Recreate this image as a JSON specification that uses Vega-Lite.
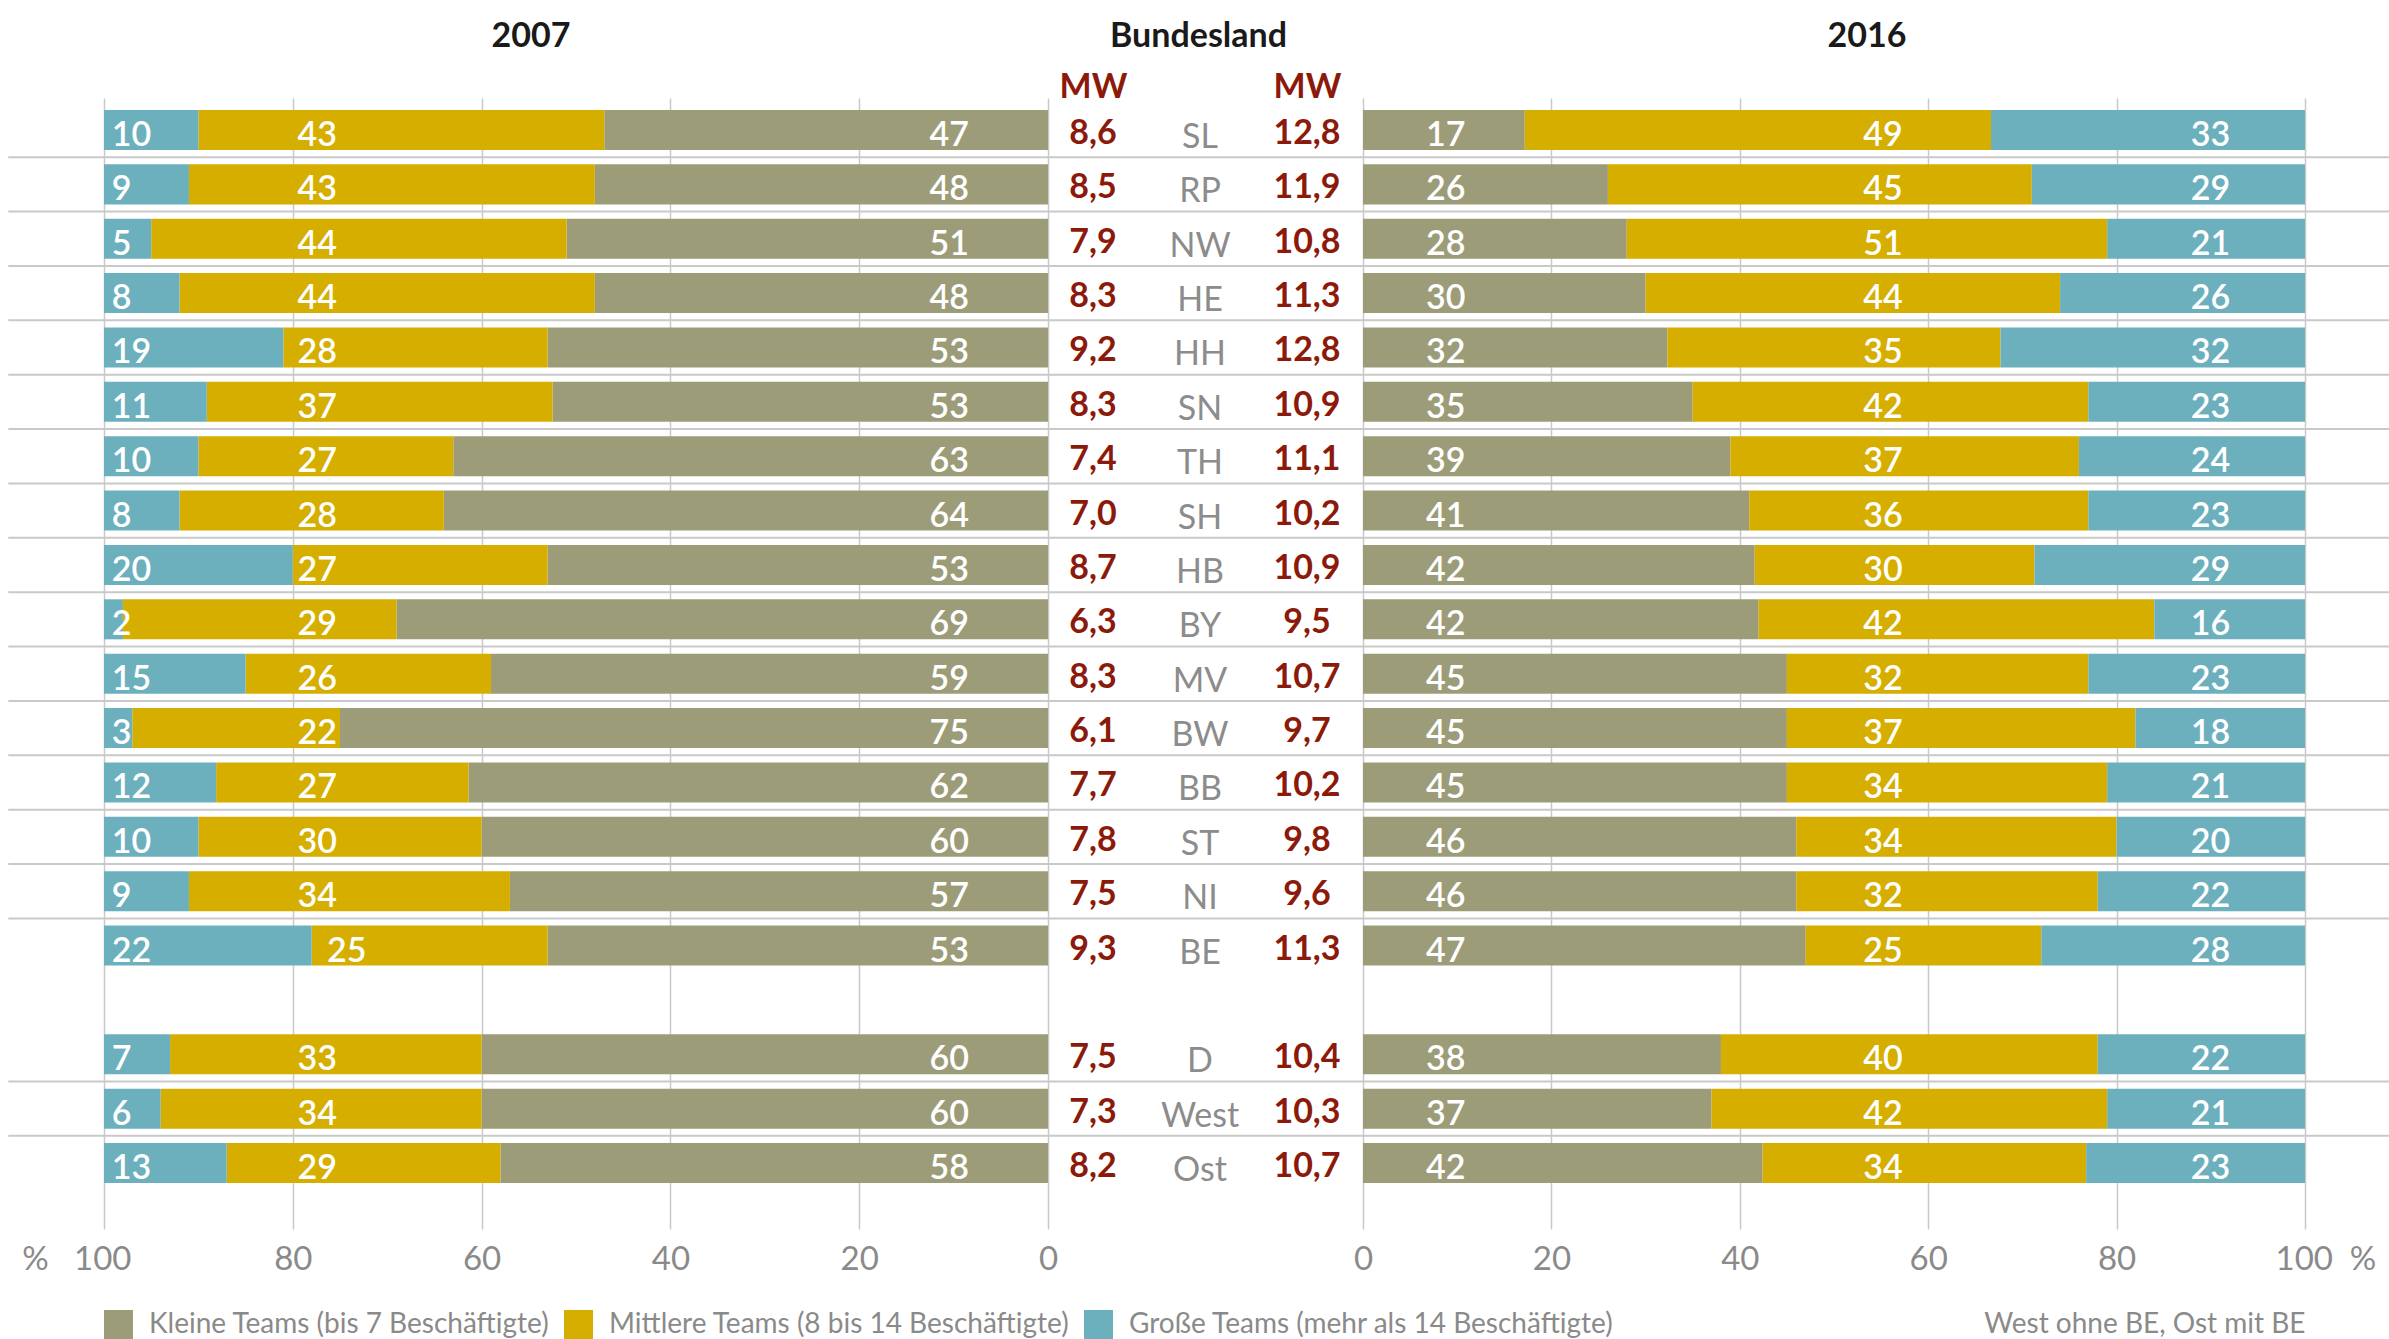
{
  "$schema": "https://vega.github.io/schema/vega-lite/v6.json",
  "background": "white",
  "padding": {"left": 7, "top": 20, "right": 0, "bottom": 0},
  "autosize": {"type": "pad"},
  "bounds": "flush",
  "spacing": 0,
  "config": {
    "font": "Lato",
    "view": {"stroke": null},
    "locale": {"number": {"decimal": ",", "thousands": ".", "grouping": [3], "currency": ["", " €"]}}
  },
  "resolve": {"scale": {"color": "independent"}, "legend": {"color": "independent"}},
  "datasets": {
    "mw": [
      {"land": "SL", "mw2007": 8.6, "mw2016": 12.8},
      {"land": "RP", "mw2007": 8.5, "mw2016": 11.9},
      {"land": "NW", "mw2007": 7.9, "mw2016": 10.8},
      {"land": "HE", "mw2007": 8.3, "mw2016": 11.3},
      {"land": "HH", "mw2007": 9.2, "mw2016": 12.8},
      {"land": "SN", "mw2007": 8.3, "mw2016": 10.9},
      {"land": "TH", "mw2007": 7.4, "mw2016": 11.1},
      {"land": "SH", "mw2007": 7.0, "mw2016": 10.2},
      {"land": "HB", "mw2007": 8.7, "mw2016": 10.9},
      {"land": "BY", "mw2007": 6.3, "mw2016": 9.5},
      {"land": "MV", "mw2007": 8.3, "mw2016": 10.7},
      {"land": "BW", "mw2007": 6.1, "mw2016": 9.7},
      {"land": "BB", "mw2007": 7.7, "mw2016": 10.2},
      {"land": "ST", "mw2007": 7.8, "mw2016": 9.8},
      {"land": "NI", "mw2007": 7.5, "mw2016": 9.6},
      {"land": "BE", "mw2007": 9.3, "mw2016": 11.3},
      {"land": "D", "mw2007": 7.5, "mw2016": 10.4},
      {"land": "West", "mw2007": 7.3, "mw2016": 10.3},
      {"land": "Ost", "mw2007": 8.2, "mw2016": 10.7}
    ],
    "a2007": [
      {"land": "SL", "kat": "Kleine Teams (bis 7 Beschäftigte)", "o": 1, "v": 47},
      {"land": "SL", "kat": "Mittlere Teams (8 bis 14 Beschäftigte)", "o": 2, "v": 43},
      {"land": "SL", "kat": "Große Teams (mehr als 14 Beschäftigte)", "o": 3, "v": 10},
      {"land": "RP", "kat": "Kleine Teams (bis 7 Beschäftigte)", "o": 1, "v": 48},
      {"land": "RP", "kat": "Mittlere Teams (8 bis 14 Beschäftigte)", "o": 2, "v": 43},
      {"land": "RP", "kat": "Große Teams (mehr als 14 Beschäftigte)", "o": 3, "v": 9},
      {"land": "NW", "kat": "Kleine Teams (bis 7 Beschäftigte)", "o": 1, "v": 51},
      {"land": "NW", "kat": "Mittlere Teams (8 bis 14 Beschäftigte)", "o": 2, "v": 44},
      {"land": "NW", "kat": "Große Teams (mehr als 14 Beschäftigte)", "o": 3, "v": 5},
      {"land": "HE", "kat": "Kleine Teams (bis 7 Beschäftigte)", "o": 1, "v": 48},
      {"land": "HE", "kat": "Mittlere Teams (8 bis 14 Beschäftigte)", "o": 2, "v": 44},
      {"land": "HE", "kat": "Große Teams (mehr als 14 Beschäftigte)", "o": 3, "v": 8},
      {"land": "HH", "kat": "Kleine Teams (bis 7 Beschäftigte)", "o": 1, "v": 53},
      {"land": "HH", "kat": "Mittlere Teams (8 bis 14 Beschäftigte)", "o": 2, "v": 28},
      {"land": "HH", "kat": "Große Teams (mehr als 14 Beschäftigte)", "o": 3, "v": 19},
      {"land": "SN", "kat": "Kleine Teams (bis 7 Beschäftigte)", "o": 1, "v": 53},
      {"land": "SN", "kat": "Mittlere Teams (8 bis 14 Beschäftigte)", "o": 2, "v": 37},
      {"land": "SN", "kat": "Große Teams (mehr als 14 Beschäftigte)", "o": 3, "v": 11},
      {"land": "TH", "kat": "Kleine Teams (bis 7 Beschäftigte)", "o": 1, "v": 63},
      {"land": "TH", "kat": "Mittlere Teams (8 bis 14 Beschäftigte)", "o": 2, "v": 27},
      {"land": "TH", "kat": "Große Teams (mehr als 14 Beschäftigte)", "o": 3, "v": 10},
      {"land": "SH", "kat": "Kleine Teams (bis 7 Beschäftigte)", "o": 1, "v": 64},
      {"land": "SH", "kat": "Mittlere Teams (8 bis 14 Beschäftigte)", "o": 2, "v": 28},
      {"land": "SH", "kat": "Große Teams (mehr als 14 Beschäftigte)", "o": 3, "v": 8},
      {"land": "HB", "kat": "Kleine Teams (bis 7 Beschäftigte)", "o": 1, "v": 53},
      {"land": "HB", "kat": "Mittlere Teams (8 bis 14 Beschäftigte)", "o": 2, "v": 27},
      {"land": "HB", "kat": "Große Teams (mehr als 14 Beschäftigte)", "o": 3, "v": 20},
      {"land": "BY", "kat": "Kleine Teams (bis 7 Beschäftigte)", "o": 1, "v": 69},
      {"land": "BY", "kat": "Mittlere Teams (8 bis 14 Beschäftigte)", "o": 2, "v": 29},
      {"land": "BY", "kat": "Große Teams (mehr als 14 Beschäftigte)", "o": 3, "v": 2},
      {"land": "MV", "kat": "Kleine Teams (bis 7 Beschäftigte)", "o": 1, "v": 59},
      {"land": "MV", "kat": "Mittlere Teams (8 bis 14 Beschäftigte)", "o": 2, "v": 26},
      {"land": "MV", "kat": "Große Teams (mehr als 14 Beschäftigte)", "o": 3, "v": 15},
      {"land": "BW", "kat": "Kleine Teams (bis 7 Beschäftigte)", "o": 1, "v": 75},
      {"land": "BW", "kat": "Mittlere Teams (8 bis 14 Beschäftigte)", "o": 2, "v": 22},
      {"land": "BW", "kat": "Große Teams (mehr als 14 Beschäftigte)", "o": 3, "v": 3},
      {"land": "BB", "kat": "Kleine Teams (bis 7 Beschäftigte)", "o": 1, "v": 62},
      {"land": "BB", "kat": "Mittlere Teams (8 bis 14 Beschäftigte)", "o": 2, "v": 27},
      {"land": "BB", "kat": "Große Teams (mehr als 14 Beschäftigte)", "o": 3, "v": 12},
      {"land": "ST", "kat": "Kleine Teams (bis 7 Beschäftigte)", "o": 1, "v": 60},
      {"land": "ST", "kat": "Mittlere Teams (8 bis 14 Beschäftigte)", "o": 2, "v": 30},
      {"land": "ST", "kat": "Große Teams (mehr als 14 Beschäftigte)", "o": 3, "v": 10},
      {"land": "NI", "kat": "Kleine Teams (bis 7 Beschäftigte)", "o": 1, "v": 57},
      {"land": "NI", "kat": "Mittlere Teams (8 bis 14 Beschäftigte)", "o": 2, "v": 34},
      {"land": "NI", "kat": "Große Teams (mehr als 14 Beschäftigte)", "o": 3, "v": 9},
      {"land": "BE", "kat": "Kleine Teams (bis 7 Beschäftigte)", "o": 1, "v": 53},
      {"land": "BE", "kat": "Mittlere Teams (8 bis 14 Beschäftigte)", "o": 2, "v": 25},
      {"land": "BE", "kat": "Große Teams (mehr als 14 Beschäftigte)", "o": 3, "v": 22},
      {"land": "D", "kat": "Kleine Teams (bis 7 Beschäftigte)", "o": 1, "v": 60},
      {"land": "D", "kat": "Mittlere Teams (8 bis 14 Beschäftigte)", "o": 2, "v": 33},
      {"land": "D", "kat": "Große Teams (mehr als 14 Beschäftigte)", "o": 3, "v": 7},
      {"land": "West", "kat": "Kleine Teams (bis 7 Beschäftigte)", "o": 1, "v": 60},
      {"land": "West", "kat": "Mittlere Teams (8 bis 14 Beschäftigte)", "o": 2, "v": 34},
      {"land": "West", "kat": "Große Teams (mehr als 14 Beschäftigte)", "o": 3, "v": 6},
      {"land": "Ost", "kat": "Kleine Teams (bis 7 Beschäftigte)", "o": 1, "v": 58},
      {"land": "Ost", "kat": "Mittlere Teams (8 bis 14 Beschäftigte)", "o": 2, "v": 29},
      {"land": "Ost", "kat": "Große Teams (mehr als 14 Beschäftigte)", "o": 3, "v": 13}
    ],
    "a2016": [
      {"land": "SL", "kat": "Kleine Teams (bis 7 Beschäftigte)", "o": 1, "v": 17},
      {"land": "SL", "kat": "Mittlere Teams (8 bis 14 Beschäftigte)", "o": 2, "v": 49},
      {"land": "SL", "kat": "Große Teams (mehr als 14 Beschäftigte)", "o": 3, "v": 33},
      {"land": "RP", "kat": "Kleine Teams (bis 7 Beschäftigte)", "o": 1, "v": 26},
      {"land": "RP", "kat": "Mittlere Teams (8 bis 14 Beschäftigte)", "o": 2, "v": 45},
      {"land": "RP", "kat": "Große Teams (mehr als 14 Beschäftigte)", "o": 3, "v": 29},
      {"land": "NW", "kat": "Kleine Teams (bis 7 Beschäftigte)", "o": 1, "v": 28},
      {"land": "NW", "kat": "Mittlere Teams (8 bis 14 Beschäftigte)", "o": 2, "v": 51},
      {"land": "NW", "kat": "Große Teams (mehr als 14 Beschäftigte)", "o": 3, "v": 21},
      {"land": "HE", "kat": "Kleine Teams (bis 7 Beschäftigte)", "o": 1, "v": 30},
      {"land": "HE", "kat": "Mittlere Teams (8 bis 14 Beschäftigte)", "o": 2, "v": 44},
      {"land": "HE", "kat": "Große Teams (mehr als 14 Beschäftigte)", "o": 3, "v": 26},
      {"land": "HH", "kat": "Kleine Teams (bis 7 Beschäftigte)", "o": 1, "v": 32},
      {"land": "HH", "kat": "Mittlere Teams (8 bis 14 Beschäftigte)", "o": 2, "v": 35},
      {"land": "HH", "kat": "Große Teams (mehr als 14 Beschäftigte)", "o": 3, "v": 32},
      {"land": "SN", "kat": "Kleine Teams (bis 7 Beschäftigte)", "o": 1, "v": 35},
      {"land": "SN", "kat": "Mittlere Teams (8 bis 14 Beschäftigte)", "o": 2, "v": 42},
      {"land": "SN", "kat": "Große Teams (mehr als 14 Beschäftigte)", "o": 3, "v": 23},
      {"land": "TH", "kat": "Kleine Teams (bis 7 Beschäftigte)", "o": 1, "v": 39},
      {"land": "TH", "kat": "Mittlere Teams (8 bis 14 Beschäftigte)", "o": 2, "v": 37},
      {"land": "TH", "kat": "Große Teams (mehr als 14 Beschäftigte)", "o": 3, "v": 24},
      {"land": "SH", "kat": "Kleine Teams (bis 7 Beschäftigte)", "o": 1, "v": 41},
      {"land": "SH", "kat": "Mittlere Teams (8 bis 14 Beschäftigte)", "o": 2, "v": 36},
      {"land": "SH", "kat": "Große Teams (mehr als 14 Beschäftigte)", "o": 3, "v": 23},
      {"land": "HB", "kat": "Kleine Teams (bis 7 Beschäftigte)", "o": 1, "v": 42},
      {"land": "HB", "kat": "Mittlere Teams (8 bis 14 Beschäftigte)", "o": 2, "v": 30},
      {"land": "HB", "kat": "Große Teams (mehr als 14 Beschäftigte)", "o": 3, "v": 29},
      {"land": "BY", "kat": "Kleine Teams (bis 7 Beschäftigte)", "o": 1, "v": 42},
      {"land": "BY", "kat": "Mittlere Teams (8 bis 14 Beschäftigte)", "o": 2, "v": 42},
      {"land": "BY", "kat": "Große Teams (mehr als 14 Beschäftigte)", "o": 3, "v": 16},
      {"land": "MV", "kat": "Kleine Teams (bis 7 Beschäftigte)", "o": 1, "v": 45},
      {"land": "MV", "kat": "Mittlere Teams (8 bis 14 Beschäftigte)", "o": 2, "v": 32},
      {"land": "MV", "kat": "Große Teams (mehr als 14 Beschäftigte)", "o": 3, "v": 23},
      {"land": "BW", "kat": "Kleine Teams (bis 7 Beschäftigte)", "o": 1, "v": 45},
      {"land": "BW", "kat": "Mittlere Teams (8 bis 14 Beschäftigte)", "o": 2, "v": 37},
      {"land": "BW", "kat": "Große Teams (mehr als 14 Beschäftigte)", "o": 3, "v": 18},
      {"land": "BB", "kat": "Kleine Teams (bis 7 Beschäftigte)", "o": 1, "v": 45},
      {"land": "BB", "kat": "Mittlere Teams (8 bis 14 Beschäftigte)", "o": 2, "v": 34},
      {"land": "BB", "kat": "Große Teams (mehr als 14 Beschäftigte)", "o": 3, "v": 21},
      {"land": "ST", "kat": "Kleine Teams (bis 7 Beschäftigte)", "o": 1, "v": 46},
      {"land": "ST", "kat": "Mittlere Teams (8 bis 14 Beschäftigte)", "o": 2, "v": 34},
      {"land": "ST", "kat": "Große Teams (mehr als 14 Beschäftigte)", "o": 3, "v": 20},
      {"land": "NI", "kat": "Kleine Teams (bis 7 Beschäftigte)", "o": 1, "v": 46},
      {"land": "NI", "kat": "Mittlere Teams (8 bis 14 Beschäftigte)", "o": 2, "v": 32},
      {"land": "NI", "kat": "Große Teams (mehr als 14 Beschäftigte)", "o": 3, "v": 22},
      {"land": "BE", "kat": "Kleine Teams (bis 7 Beschäftigte)", "o": 1, "v": 47},
      {"land": "BE", "kat": "Mittlere Teams (8 bis 14 Beschäftigte)", "o": 2, "v": 25},
      {"land": "BE", "kat": "Große Teams (mehr als 14 Beschäftigte)", "o": 3, "v": 28},
      {"land": "D", "kat": "Kleine Teams (bis 7 Beschäftigte)", "o": 1, "v": 38},
      {"land": "D", "kat": "Mittlere Teams (8 bis 14 Beschäftigte)", "o": 2, "v": 40},
      {"land": "D", "kat": "Große Teams (mehr als 14 Beschäftigte)", "o": 3, "v": 22},
      {"land": "West", "kat": "Kleine Teams (bis 7 Beschäftigte)", "o": 1, "v": 37},
      {"land": "West", "kat": "Mittlere Teams (8 bis 14 Beschäftigte)", "o": 2, "v": 42},
      {"land": "West", "kat": "Große Teams (mehr als 14 Beschäftigte)", "o": 3, "v": 21},
      {"land": "Ost", "kat": "Kleine Teams (bis 7 Beschäftigte)", "o": 1, "v": 42},
      {"land": "Ost", "kat": "Mittlere Teams (8 bis 14 Beschäftigte)", "o": 2, "v": 34},
      {"land": "Ost", "kat": "Große Teams (mehr als 14 Beschäftigte)", "o": 3, "v": 23}
    ]
  },
  "hconcat": [
    {
      "width": 944,
      "height": 1131,
      "title": {"text": "2007", "anchor": "middle", "frame": "group", "dx": -45, "offset": 17, "baseline": "alphabetic", "fontSize": 34, "fontWeight": "bold", "color": "#1a1a1a", "font": "Lato"},
      "encoding": {
        "y": {"field": "land", "type": "nominal", "axis": null,
          "scale": {"domain": ["SL","RP","NW","HE","HH","SN","TH","SH","HB","BY","MV","BW","BB","ST","NI","BE","gap","D","West","Ost"], "paddingInner": 0.264, "paddingOuter": 0.533, "align": 0.207}}
      },
      "layer": [
        {
          "data": {"name": "mw"},
          "transform": [{"filter": {"not": {"field": "land", "oneOf": ["BE", "Ost"]}}}],
          "mark": {"type": "rule", "stroke": "#c9c9c9", "strokeWidth": 2},
          "encoding": {
            "y": {"field": "land", "type": "nominal", "bandPosition": 1.18},
            "x": {"datum": 0, "type": "quantitative"},
            "x2": {"datum": 1.1014}
          }
        },
        {
          "data": {"name": "a2007"},
          "mark": {"type": "bar"},
          "encoding": {
            "x": {"field": "v", "type": "quantitative", "stack": "normalize",
              "scale": {"domain": [0, 1], "reverse": true},
              "axis": {"values": [0, 0.2, 0.4, 0.6, 0.8, 1], "title": null,
                "labelExpr": "datum.value == 1 ? '%\u00a0\u00a0\u00a0100' : format(round(datum.value * 100), 'd')",
                "labelAlign": {"condition": {"test": "datum.value == 1", "value": "right"}, "value": "center"},
                "labelOffset": {"condition": {"test": "datum.value == 1", "value": 27}, "value": 0},
                "grid": true, "gridColor": "#c9c9c9", "gridWidth": 1.5, "domain": false, "ticks": false,
                "labelFontSize": 33, "labelColor": "#8a8a8a", "labelFont": "Lato", "labelPadding": 14,
                "labelFlush": false, "labelOverlap": false, "labelBound": false}},
            "color": {"field": "kat", "type": "nominal",
              "scale": {"domain": ["Kleine Teams (bis 7 Beschäftigte)", "Mittlere Teams (8 bis 14 Beschäftigte)", "Große Teams (mehr als 14 Beschäftigte)"], "range": ["#9c9d78", "#d6ae00", "#6cb0be"]},
              "legend": {"orient": "bottom", "direction": "horizontal", "title": null, "symbolType": "square", "symbolSize": 841, "symbolStrokeWidth": 0, "symbolOpacity": 1, "labelFontSize": 28, "labelColor": "#8a8a8a", "labelFont": "Lato", "labelOffset": 16, "columnPadding": 14, "offset": 34, "labelLimit": 0}},
            "order": {"field": "o", "type": "quantitative"}
          }
        },
        {
          "data": {"name": "a2007"},
          "transform": [{"filter": {"field": "kat", "equal": "Große Teams (mehr als 14 Beschäftigte)"}}],
          "mark": {"type": "text", "align": "left", "baseline": "alphabetic", "dy": 16, "fontSize": 34, "fontWeight": 600, "color": "white", "font": "Lato"},
          "encoding": {"x": {"datum": 0.9918, "type": "quantitative"}, "text": {"field": "v", "type": "quantitative", "format": "d"}}
        },
        {
          "data": {"name": "a2007"},
          "transform": [{"filter": {"field": "kat", "equal": "Mittlere Teams (8 bis 14 Beschäftigte)"}}, {"filter": "datum.land != 'BE'"}],
          "mark": {"type": "text", "align": "left", "baseline": "alphabetic", "dy": 16, "fontSize": 34, "fontWeight": 600, "color": "white", "font": "Lato"},
          "encoding": {"x": {"datum": 0.795, "type": "quantitative"}, "text": {"field": "v", "type": "quantitative", "format": "d"}}
        },
        {
          "data": {"name": "a2007"},
          "transform": [{"filter": {"field": "kat", "equal": "Mittlere Teams (8 bis 14 Beschäftigte)"}}, {"filter": "datum.land == 'BE'"}],
          "mark": {"type": "text", "align": "left", "baseline": "alphabetic", "dy": 16, "fontSize": 34, "fontWeight": 600, "color": "white", "font": "Lato"},
          "encoding": {"x": {"datum": 0.7638, "type": "quantitative"}, "text": {"field": "v", "type": "quantitative", "format": "d"}}
        },
        {
          "data": {"name": "a2007"},
          "transform": [{"filter": {"field": "kat", "equal": "Kleine Teams (bis 7 Beschäftigte)"}}],
          "mark": {"type": "text", "align": "right", "baseline": "alphabetic", "dy": 16, "fontSize": 34, "fontWeight": 600, "color": "white", "font": "Lato"},
          "encoding": {"x": {"datum": 0.0837, "type": "quantitative"}, "text": {"field": "v", "type": "quantitative", "format": "d"}}
        }
      ]
    },
    {
      "width": 315,
      "height": 1131,
      "title": {"text": "Bundesland", "anchor": "middle", "frame": "group", "dx": -7, "offset": -11, "baseline": "alphabetic", "fontSize": 34, "fontWeight": "bold", "color": "#1a1a1a", "font": "Lato"},
      "data": {"name": "mw"},
      "encoding": {
        "y": {"field": "land", "type": "nominal", "axis": null,
          "scale": {"domain": ["SL","RP","NW","HE","HH","SN","TH","SH","HB","BY","MV","BW","BB","ST","NI","BE","gap","D","West","Ost"], "paddingInner": 0.264, "paddingOuter": 0.533, "align": 0.207}}
      },
      "layer": [
        {
          "transform": [{"filter": {"not": {"field": "land", "oneOf": ["BE", "Ost"]}}}],
          "mark": {"type": "rule", "stroke": "#c9c9c9", "strokeWidth": 2},
          "encoding": {"y": {"field": "land", "type": "nominal", "bandPosition": 1.18}}
        },
        {
          "mark": {"type": "text", "baseline": "alphabetic", "dy": 14, "fontSize": 34, "fontWeight": "bold", "color": "#8b1a0a", "font": "Lato"},
          "encoding": {
            "x": {"datum": "mw2007", "type": "nominal",
              "scale": {"type": "point", "domain": ["mw2007", "land", "mw2016"], "padding": 0.472, "align": 0.4455},
              "axis": {"orient": "top", "title": null, "labelExpr": "datum.value == 'land' ? '' : 'MW'", "labelColor": "#8b1a0a", "labelFontWeight": "bold", "labelFontSize": 34, "labelFont": "Lato", "labelBaseline": "alphabetic", "labelPadding": 1, "labelAngle": 0, "domain": false, "ticks": false, "grid": false}},
            "text": {"field": "mw2007", "type": "quantitative", "format": ".1f"}
          }
        },
        {
          "mark": {"type": "text", "baseline": "alphabetic", "dy": 18, "fontSize": 34, "fontWeight": "normal", "color": "#8c8c8c", "font": "Lato"},
          "encoding": {
            "x": {"datum": "land", "type": "nominal"},
            "text": {"field": "land", "type": "nominal"}
          }
        },
        {
          "mark": {"type": "text", "baseline": "alphabetic", "dy": 14, "fontSize": 34, "fontWeight": "bold", "color": "#8b1a0a", "font": "Lato"},
          "encoding": {
            "x": {"datum": "mw2016", "type": "nominal"},
            "text": {"field": "mw2016", "type": "quantitative", "format": ".1f"}
          }
        }
      ]
    },
    {
      "width": 942,
      "height": 1131,
      "title": {"text": "2016", "anchor": "middle", "frame": "group", "dx": 33, "offset": 17, "baseline": "alphabetic", "fontSize": 34, "fontWeight": "bold", "color": "#1a1a1a", "font": "Lato"},
      "encoding": {
        "y": {"field": "land", "type": "nominal", "axis": null,
          "scale": {"domain": ["SL","RP","NW","HE","HH","SN","TH","SH","HB","BY","MV","BW","BB","ST","NI","BE","gap","D","West","Ost"], "paddingInner": 0.264, "paddingOuter": 0.533, "align": 0.207}}
      },
      "layer": [
        {
          "data": {"name": "mw"},
          "transform": [{"filter": {"not": {"field": "land", "oneOf": ["BE", "Ost"]}}}],
          "mark": {"type": "rule", "stroke": "#c9c9c9", "strokeWidth": 2},
          "encoding": {
            "y": {"field": "land", "type": "nominal", "bandPosition": 1.18},
            "x": {"datum": 0, "type": "quantitative"},
            "x2": {"datum": 1.0902}
          }
        },
        {
          "data": {"name": "a2016"},
          "mark": {"type": "bar"},
          "encoding": {
            "x": {"field": "v", "type": "quantitative", "stack": "normalize",
              "scale": {"domain": [0, 1]},
              "axis": {"values": [0, 0.2, 0.4, 0.6, 0.8, 1],
                "title": "West ohne BE, Ost mit BE", "titleAnchor": "end", "titleAlign": "right", "titleFontSize": 28, "titleFontWeight": "normal", "titleColor": "#8a8a8a", "titleFont": "Lato", "titlePadding": 34,
                "labelExpr": "datum.value == 1 ? '100\u00a0\u00a0%' : format(round(datum.value * 100), 'd')",
                "labelAlign": {"condition": {"test": "datum.value == 1", "value": "left"}, "value": "center"},
                "labelOffset": {"condition": {"test": "datum.value == 1", "value": -30}, "value": 0},
                "grid": true, "gridColor": "#c9c9c9", "gridWidth": 1.5, "domain": false, "ticks": false,
                "labelFontSize": 33, "labelColor": "#8a8a8a", "labelFont": "Lato", "labelPadding": 14,
                "labelFlush": false, "labelOverlap": false, "labelBound": false}},
            "color": {"field": "kat", "type": "nominal",
              "scale": {"domain": ["Kleine Teams (bis 7 Beschäftigte)", "Mittlere Teams (8 bis 14 Beschäftigte)", "Große Teams (mehr als 14 Beschäftigte)"], "range": ["#9c9d78", "#d6ae00", "#6cb0be"]},
              "legend": null},
            "order": {"field": "o", "type": "quantitative"}
          }
        },
        {
          "data": {"name": "a2016"},
          "transform": [{"filter": {"field": "kat", "equal": "Kleine Teams (bis 7 Beschäftigte)"}}],
          "mark": {"type": "text", "align": "left", "baseline": "alphabetic", "dy": 16, "fontSize": 34, "fontWeight": 600, "color": "white", "font": "Lato"},
          "encoding": {"x": {"datum": 0.067, "type": "quantitative"}, "text": {"field": "v", "type": "quantitative", "format": "d"}}
        },
        {
          "data": {"name": "a2016"},
          "transform": [{"filter": {"field": "kat", "equal": "Mittlere Teams (8 bis 14 Beschäftigte)"}}],
          "mark": {"type": "text", "align": "center", "baseline": "alphabetic", "dy": 16, "fontSize": 34, "fontWeight": 600, "color": "white", "font": "Lato"},
          "encoding": {"x": {"datum": 0.552, "type": "quantitative"}, "text": {"field": "v", "type": "quantitative", "format": "d"}}
        },
        {
          "data": {"name": "a2016"},
          "transform": [{"filter": {"field": "kat", "equal": "Große Teams (mehr als 14 Beschäftigte)"}}],
          "mark": {"type": "text", "align": "right", "baseline": "alphabetic", "dy": 16, "fontSize": 34, "fontWeight": 600, "color": "white", "font": "Lato"},
          "encoding": {"x": {"datum": 0.9205, "type": "quantitative"}, "text": {"field": "v", "type": "quantitative", "format": "d"}}
        }
      ]
    }
  ]
}
